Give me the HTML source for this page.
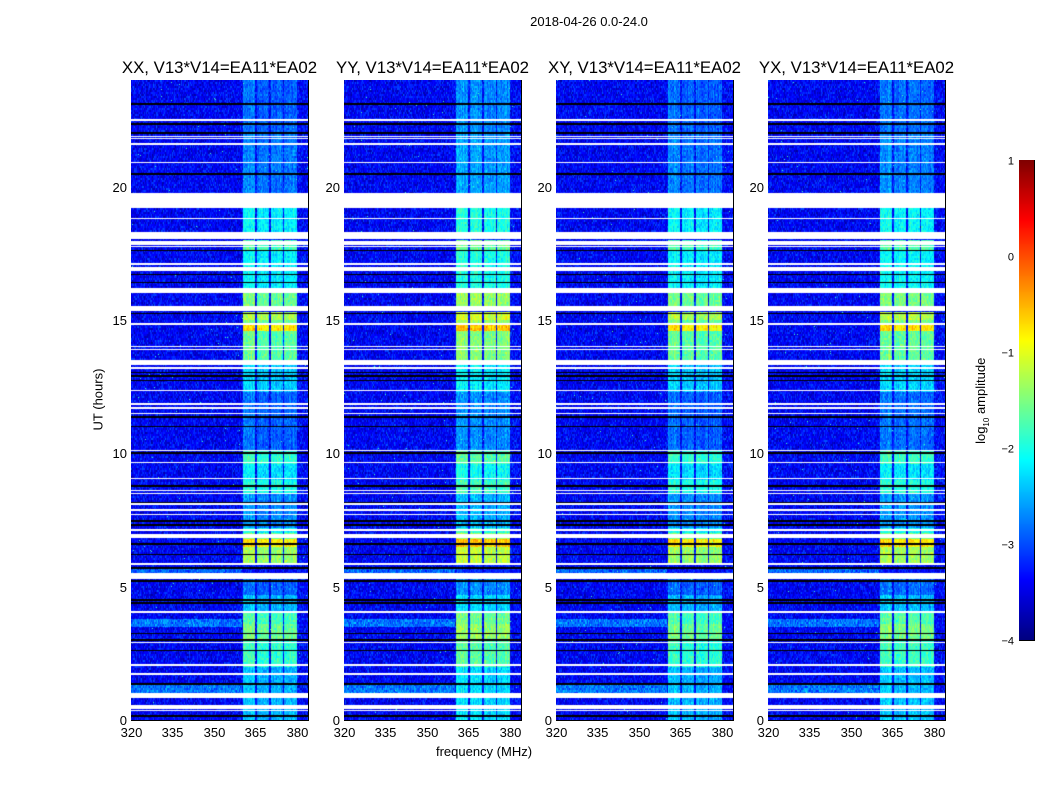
<!DOCTYPE html>
<html><head><meta charset="utf-8">
<style>
body{margin:0;background:#fff;}
#root{position:relative;width:1050px;height:800px;background:#fff;font-family:"Liberation Sans","DejaVu Sans",sans-serif;color:#000;overflow:hidden}
.t{position:absolute;white-space:nowrap}
canvas{position:absolute}
</style></head>
<body>
<div id="root">
<div class="t" style="left:489px;top:14px;width:200px;text-align:center;font-size:13px">2018-04-26 0.0-24.0</div>
<div class="t" style="left:384px;top:744px;width:200px;text-align:center;font-size:13px">frequency (MHz)</div>
<div class="t" style="left:48px;top:392px;width:100px;text-align:center;font-size:13px;transform:rotate(-90deg)">UT (hours)</div>
<div class="t" style="left:922px;top:392px;width:120px;text-align:center;font-size:13px;transform:rotate(-90deg)">log<sub style="font-size:8px">10</sub> amplitude</div>
<svg id="ov" width="1050" height="800" style="position:absolute;left:0;top:0"></svg>
</div>
<script>
const panelNames = ["XX","YY","XY","YX"];
const panelOffset = [0, 0.2, 0, 0.05];
const xTicks = [320,335,350,365,380];
const yTicks = [0,5,10,15,20];
const cbTicks = [1,0,-1,-2,-3,-4];
const flagWhite = [[0.32,0.37],[0.43,0.48],[0.5,0.55],[0.82,1.0],[1.7,1.76],[2.04,2.1],[2.87,2.93],[4.02,4.1],[5.3,5.5],[5.83,5.89],[6.84,6.98],[7.1,7.15],[7.67,7.72],[7.85,7.9],[8.08,8.13],[8.48,8.53],[8.57,8.62],[9.02,9.07],[9.62,9.67],[10.08,10.13],[11.48,11.53],[11.68,11.73],[11.83,11.88],[12.33,12.38],[13.18,13.24],[13.33,13.5],[13.88,13.93],[13.98,14.03],[14.83,14.88],[15.35,15.4],[15.43,15.48],[15.48,15.53],[16.03,16.2],[16.85,16.9],[16.93,16.98],[17.08,17.13],[17.73,17.78],[17.83,17.88],[17.9,17.95],[18.05,18.3],[18.78,18.83],[19.2,19.75],[20.88,20.93],[21.58,21.63],[21.78,21.83],[21.85,21.9],[22.48,22.53]];
const flagBlack = [[0.12,0.18],[1.32,1.38],[2.58,2.64],[2.98,3.04],[3.22,3.28],[4.35,4.42],[4.47,4.53],[5.18,5.24],[5.68,5.74],[6.18,6.24],[6.58,6.64],[7.28,7.34],[7.44,7.5],[8.1,8.16],[8.75,8.8],[9.98,10.04],[10.98,11.04],[11.34,11.4],[12.7,12.76],[12.86,12.92],[13.0,13.06],[15.22,15.28],[16.38,16.44],[16.68,16.74],[17.58,17.64],[20.45,20.52],[21.98,22.05],[22.32,22.38],[23.08,23.14]];
const segStart = [0,2,3,3.6,4.0,4.7,5.3,5.9,6.5,6.8,7.0,7.2,7.7,8.5,9.0,9.6,10.1,12.3,13.4,14.6,14.8,15.0,15.4,16.2,17.6,18.3,19.7,22.0];
const segEnd   = [2,3,3.6,4.0,4.7,5.3,5.9,6.5,6.8,7.0,7.2,7.7,8.5,9.0,9.6,10.1,12.3,13.3,14.6,14.8,15.0,15.3,16.0,17.6,18.0,19.2,22.0,24];
const segLevel = [-2.5,-1.9,-1.6,-1.8,-2.5,-2.9,-3.4,-1.4,-0.8,-1.6,-2.1,-2.7,-2.7,-2.0,-2.3,-1.9,-2.9,-2.4,-1.7,-0.8,-1.6,-1.3,-1.6,-2.2,-1.8,-2.2,-2.8,-2.9];
const bandLo = [360.5,365.5,370.5,375.5];
const bandHi = [365,370,375,380];
const broadStart = [1.0,3.5,5.5];
const broadEnd = [1.3,3.8,5.7];
const broadLevel = [-2.8,-2.8,-2.9];

const panelLeft=[131,344,556,768], PW=177, PT=80, PH=640;
const fMin=320,fMax=384,tMin=0,tMax=24;
const xs=(f,i)=>panelLeft[i]+(f-fMin)/(fMax-fMin)*PW;
const ys=t=>PT+PH-(t-tMin)/(tMax-tMin)*PH;
function jet(v){
  const r=Math.min(Math.max(Math.min(4*v-1.5,-4*v+4.5),0),1);
  const g=Math.min(Math.max(Math.min(4*v-0.5,-4*v+3.5),0),1);
  const b=Math.min(Math.max(Math.min(4*v+0.5,-4*v+2.5),0),1);
  return [r*255|0,g*255|0,b*255|0];
}
function hash(a,b,c){let h=(a*374761393+b*668265263+c*2147483647)|0;h=(h^(h>>>13))*1274126177|0;h=h^(h>>>16);return ((h>>>0)%10000)/10000;}
function inAny(t,arr){for(const r of arr) if(t>=r[0]&&t<r[1]) return true;return false;}
const root=document.getElementById('root');
const NS='http://www.w3.org/2000/svg';
const ov=document.getElementById('ov');
function sv(tag,attrs){const e=document.createElementNS(NS,tag);for(const k in attrs)e.setAttribute(k,attrs[k]);ov.appendChild(e);return e;}
for(let p=0;p<4;p++){
  const cv=document.createElement('canvas');
  cv.width=PW;cv.height=PH;cv.style.left=panelLeft[p]+'px';cv.style.top=PT+'px';
  
  
  root.appendChild(cv);
  const ctx=cv.getContext('2d');const img=ctx.createImageData(PW,PH);
  for(let y=0;y<PH;y++){
    const t=tMax-(y+0.5)/PH*(tMax-tMin);
    let white=inAny(t,flagWhite), black=inAny(t,flagBlack);
    let lev=-3.4;
    for(let s=0;s<segStart.length;s++) if(t>=segStart[s]&&t<segEnd[s]){lev=segLevel[s];break;}
    let br=-3.4;
    for(let s=0;s<broadStart.length;s++) if(t>=broadStart[s]&&t<broadEnd[s]) br=broadLevel[s];
    for(let x=0;x<PW;x++){
      const f=fMin+(x+0.5)/PW*(fMax-fMin);
      let v;const n=hash(x,y>>1,p)+hash(x+7,(y>>1)+3,p+11)-1;
      if(white){v=null;}else if(black){v=-9;}
      else{
        v=(f<360?br:-3.35)+n*0.5;
        for(let b=0;b<4;b++) if(f>=bandLo[b]&&f<bandHi[b]){
          const bl=lev+panelOffset[p]+(b==0?0.1:0)+0.25*(hash(x,3,p)-0.5);
          if(bl>v) v=bl+n*0.35;
        }
        if(hash(x,y,p+5)>0.9985) v=-1.8;
      }
      const k=(y*PW+x)*4;
      let c;
      if(v===null) c=[255,255,255]; else if(v<-8) c=[0,0,0]; else c=jet(Math.min(Math.max((v+4)/5,0),1));
      img.data[k]=c[0];img.data[k+1]=c[1];img.data[k+2]=c[2];img.data[k+3]=255;
    }
  }
  ctx.putImageData(img,0,0);
  const L=panelLeft[p];
  const fr=sv('rect',{x:L+0.5,y:PT+0.5,width:PW,height:PH,fill:'none',stroke:'#000','stroke-width':1});
  
  
  const ti=sv('text',{x:L+PW/2,y:73,'text-anchor':'middle','font-size':16.8,'font-family':'Liberation Sans, sans-serif'});
  ti.textContent=panelNames[p]+', V13*V14=EA11*EA02';
  
  
  for(const f of xTicks){
    const x=Math.round(xs(f,p))+0.5;
    sv('line',{x1:x,x2:x,y1:PT+PH,y2:PT+PH-4,stroke:'#000'});
    sv('line',{x1:x,x2:x,y1:PT,y2:PT+4,stroke:'#000'});
    const tx=sv('text',{x:x,y:737,'text-anchor':'middle','font-size':13,'font-family':'Liberation Sans, sans-serif'});
    tx.textContent=f;
    
    
  }
  for(const t of yTicks){
    const y=Math.round(ys(t))+0.5;
    sv('line',{x1:L,x2:L+4,y1:y,y2:y,stroke:'#000'});
    sv('line',{x1:L+PW,x2:L+PW-4,y1:y,y2:y,stroke:'#000'});
    const ty=sv('text',{x:L-4,y:y+4.5,'text-anchor':'end','font-size':13,'font-family':'Liberation Sans, sans-serif'});
    ty.textContent=t;
    
    
  }
}
const cbX=1019,cbY=160,cbW=15,cbH=480,cbMin=-4,cbMax=1;
const cb=document.createElement('canvas');cb.width=cbW;cb.height=cbH;cb.style.left=cbX+'px';cb.style.top=cbY+'px';


root.appendChild(cb);
const cc=cb.getContext('2d');
for(let y=0;y<cbH;y++){const c=jet(1-(y+0.5)/cbH);cc.fillStyle='rgb('+c+')';cc.fillRect(0,y,cbW,1);}
sv('rect',{x:cbX+0.5,y:cbY+0.5,width:cbW,height:cbH,fill:'none',stroke:'#000'});
for(const v of cbTicks){
  const y=Math.round(cbY+cbH-(v-cbMin)/(cbMax-cbMin)*cbH)+0.5;
  sv('line',{x1:cbX,x2:cbX+4,y1:y,y2:y,stroke:'#000'});
  sv('line',{x1:cbX+cbW,x2:cbX+cbW-4,y1:y,y2:y,stroke:'#000'});
  const tl=sv('text',{x:cbX-5,y:y+4,'text-anchor':'end','font-size':11,'font-family':'Liberation Sans, sans-serif'});
  tl.textContent=v<0?'\u2212'+(-v):String(v);
  
  
}
</script>
</body></html>
